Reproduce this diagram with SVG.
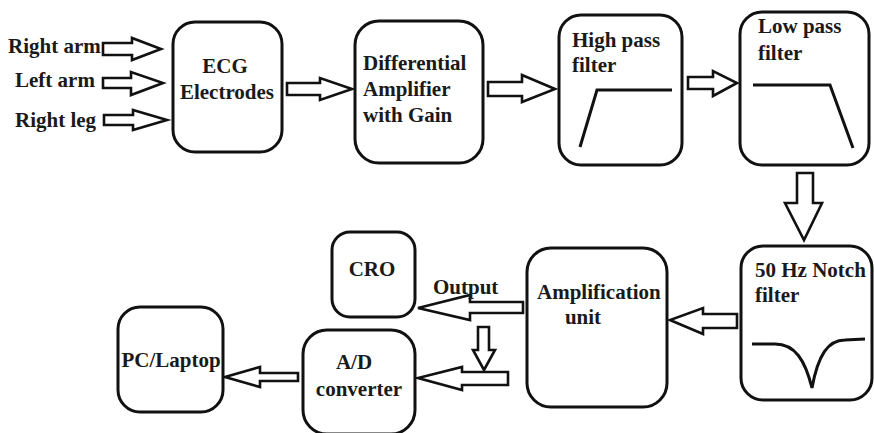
<svg xmlns="http://www.w3.org/2000/svg" width="874" height="433" viewBox="0 0 874 433">
<style>
.box{fill:#fff;stroke:#111;stroke-width:3}
.arr{fill:#fff;stroke:#111;stroke-width:2.6;stroke-linejoin:miter}
.crv{fill:none;stroke:#111;stroke-width:3}
text{font-family:'Liberation Serif','DejaVu Serif',serif;font-weight:700;font-size:21px;fill:#1a1a1a}
.m{text-anchor:middle}
</style>
<rect width="874" height="433" fill="#fff"/>
<g id="connectors">
<polygon class="arr" points="103,43 132,43 132,38 161,49 132,60 132,55 103,55"/>
<polygon class="arr" points="103,78 131,78 131,72 163,83 131,95 131,88 103,88"/>
<polygon class="arr" points="104,115 133,115 133,110 167,120 133,130 133,125 104,125"/>
<polygon class="arr" points="287,83 320,83 320,78 352,89 320,100 320,95 287,95"/>
<polygon class="arr" points="488,82 522,82 522,75 555,89 522,102 522,96 488,96"/>
<polygon class="arr" points="688,77 713,77 713,71 737,83 713,96 713,89 688,89"/>
<polygon class="arr" points="797,173 813,173 813,203 822,203 804,240 785,203 797,203"/>
<polygon class="arr" points="737,314 703,314 703,308 670,320 703,334 703,328 737,328"/>
<polygon class="arr" points="523,302 470,302 470,295 418,308 470,320 470,313 523,313"/>
<polygon class="arr" points="478,327 489,327 489,350 495,350 484,370 473,350 478,350"/>
<polygon class="arr" points="508,372 462,372 462,367 418,378 462,390 462,385 508,385"/>
<polygon class="arr" points="298,373 260,373 260,367 225,377 260,387 260,381 298,381"/>
</g>
<g id="inputs">
<text x="8" y="53" font-family="Liberation Serif">Right arm</text>
<text x="15" y="87">Left arm</text>
<text x="15" y="127">Right leg</text>
</g>
<g id="ecg">
<rect class="box" x="173" y="22" width="109" height="130" rx="22"/>
<text class="m" x="225" y="73">ECG</text>
<text class="m" x="227" y="99">Electrodes</text>
</g>
<g id="diff">
<rect class="box" x="355" y="21" width="128" height="142" rx="24"/>
<text x="363" y="70">Differential</text>
<text x="363" y="96">Amplifier</text>
<text x="363" y="122">with Gain</text>
</g>
<g id="hpf">
<rect class="box" x="559" y="15" width="123" height="150" rx="22"/>
<text x="572" y="47">High pass</text>
<text x="572" y="72">filter</text>
<path class="crv" d="M580,147 L597,90 L672,90"/>
</g>
<g id="lpf">
<rect class="box" x="740" y="12" width="129" height="153" rx="22"/>
<text x="758" y="33">Low pass</text>
<text x="758" y="60">filter</text>
<path class="crv" d="M753,85 L830,85 L853,148"/>
</g>
<g id="notch">
<rect class="box" x="741" y="246" width="131" height="154" rx="22"/>
<text x="755" y="277">50 Hz Notch</text>
<text x="755" y="302">filter</text>
<path class="crv" d="M752,344 L775,344 C795,344 805,360 812,388 C818,355 828,340 845,340 L865,339"/>
</g>
<g id="amp">
<rect class="box" x="527" y="248" width="140" height="159" rx="24"/>
<text x="537" y="299">Amplification</text>
<text class="m" x="583" y="324">unit</text>
</g>
<g id="cro">
<rect class="box" x="332" y="232" width="83" height="85" rx="18"/>
<text class="m" x="372" y="276">CRO</text>
</g>
<text x="433" y="294">Output</text>
<g id="adc">
<rect class="box" x="303" y="330" width="112" height="104" rx="24"/>
<text class="m" x="354" y="369">A/D</text>
<text class="m" x="359" y="396">converter</text>
</g>
<g id="pc">
<rect class="box" x="118" y="307" width="105" height="105" rx="22"/>
<text class="m" x="171" y="367">PC/Laptop</text>
</g>
</svg>
